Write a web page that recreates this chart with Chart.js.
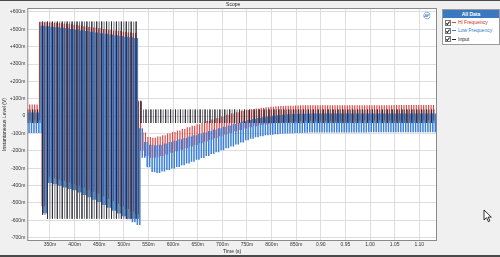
<!DOCTYPE html>
<html>
<head>
<meta charset="utf-8">
<script src="https://cdn.jsdelivr.net/npm/chart.js@4.4.1/dist/chart.umd.min.js"></script>
<style>
  body { margin: 0; width: 500px; height: 257px; overflow: hidden; background: #f0f0f0; position: relative; }
  #chart { position: absolute; left: 0; top: 0; }
  .bar { position: absolute; left: 0; width: 500px; background: #4a4a4a; }
  #legend { position: absolute; left: 442px; top: 9px; width: 56px; height: 34px; border: 1px solid #9c9c9c;
            background: #fff; font-family: "Liberation Sans", Arial, sans-serif; font-size: 5px; }
  #legend .hdr { background: #3a78bf; color: #fff; font-weight: bold; text-align: center; height: 8px; line-height: 8px; }
  #legend .row { height: 8.4px; line-height: 8.4px; white-space: nowrap; position: relative; }
  #legend .cb { position: absolute; left: 2px; top: 1.7px; width: 4px; height: 4px; border: 0.6px solid #777; background: #fff; }
  #legend .cb::after { content: ""; position: absolute; left: 1.2px; top: -0.2px; width: 1.2px; height: 2.6px;
                       border: solid #222; border-width: 0 0.8px 0.8px 0; transform: rotate(40deg); }
  #legend .dash { position: absolute; left: 9px; top: 4px; width: 4px; height: 0.8px; }
  #legend .txt { position: absolute; left: 15px; top: 0; }
</style>
</head>
<body>
<canvas id="chart" width="440" height="257"></canvas>
<div class="bar" style="top:0;height:1px"></div>
<div class="bar" style="top:255px;height:2px"></div>
<div id="legend">
  <div class="hdr">All Data</div>
  <div class="row"><span class="cb"></span><span class="dash" style="background:#d9443f"></span><span class="txt" style="color:#c8302c">Hi Frequency</span></div>
  <div class="row"><span class="cb"></span><span class="dash" style="background:#3579d0"></span><span class="txt" style="color:#3579d0">Low Frequency</span></div>
  <div class="row"><span class="cb"></span><span class="dash" style="background:#222"></span><span class="txt" style="color:#222">Input</span></div>
</div>
<svg style="position:absolute;left:483px;top:209px" width="10" height="14" viewBox="0 0 10 14">
  <path d="M1 1 L1 11 L3.5 8.6 L5.4 12.6 L6.9 11.9 L5.1 8.1 L8.3 8.1 Z" fill="#fff" stroke="#000" stroke-width="0.8"/>
</svg>
<script>
// time base: alternating peaks/troughs, one every 5 ms starting at 305 ms
const t0 = 0.305;
const dt = 0.005;

// Input (V, in milli units) - peaks then troughs
const inputPeaks = [38, 38, 38,
  545, 545, 545, 545, 545, 545, 545, 545, 545, 545, 545, 545, 545, 545, 545, 545, 545, 545, 545, 545,
  85,
  38, 38, 38, 38, 38, 38, 38, 38, 38, 38, 38, 38, 38, 38, 38, 38, 38, 38, 38, 38,
  38, 38, 38, 38, 38, 38, 38, 38, 38, 38, 38, 38, 38, 38, 38, 38, 38, 38, 38, 38,
  38, 38, 38, 38, 38, 38, 38, 38, 38, 38, 38, 38, 38, 38, 38, 38, 38, 38, 38, 38];
const inputTroughs = [-40, -40, -40,
  -570, -592, -592, -592, -592, -592, -592, -592, -592, -592, -592, -592, -592, -592, -592, -592, -592, -592, -592, -592,
  -40, -40, -40, -40, -40, -40, -40, -40, -40, -40, -40, -40, -40, -40, -40, -40, -40, -40, -40, -40,
  -40, -40, -40, -40, -40, -40, -40, -40, -40, -40, -40, -40, -40, -40, -40, -40, -40, -40, -40, -40,
  -40, -40, -40, -40, -40, -40, -40, -40, -40, -40, -40, -40, -40, -40, -40, -40, -40, -40, -40, -40];

// Low Frequency
const lowPeaks = [20, 20, 20,
  520, 518, 515, 512, 509, 506, 502, 498, 494, 490, 486, 482, 478, 474, 470, 466, 462, 458, 454, 450,
  -70, -150, -165, -168, -165, -158, -150, -142, -134, -126, -118, -110, -102, -94, -86, -78, -70,
  -62, -54, -46, -38, -30, -23, -17, -11, -6, -2, 2, 5, 8, 10, 12, 13, 14,
  15, 15, 15, 15, 15, 15, 15, 15, 15, 15, 15, 15, 15, 15, 15, 15, 15, 15, 15, 15, 15, 15, 15, 15, 15, 15, 15];
const lowTroughs = [-97, -97, -97,
  -560, -385, -393, -402, -411, -420, -428, -440, -455, -468, -482, -495, -512, -528, -545, -562, -578, -595, -612, -628,
  -240, -295, -322, -328, -320, -311, -302, -293, -283, -273, -263, -252, -241, -230, -219, -208, -197,
  -186, -175, -164, -152, -140, -130, -122, -116, -111, -107, -104, -102, -100, -99, -98, -97, -96, -95, -95, -94,
  -94, -94, -94, -94, -94, -94, -94, -94, -94, -93, -93, -93, -93, -93, -93, -93, -93, -93, -93, -93, -93, -93, -93];

// Hi Frequency
const hiPeaks = [67, 67, 67,
  542, 541, 539, 537, 535, 532, 529, 526, 522, 518, 514, 510, 506, 502, 498, 494, 490, 486, 482, 479,
  90, -95, -120, -125, -118, -110, -101, -92, -83, -74, -65, -56, -47, -38, -29, -20, -11,
  -2, 7, 15, 22, 29, 35, 40, 44, 48, 51, 54, 56, 58, 59, 60, 61, 62,
  62, 62, 62, 62, 62, 62, 62, 62, 63, 63, 63, 63, 63, 63, 63, 63, 63, 63, 64, 64, 64, 64, 64, 64, 64, 64, 64];
const hiTroughs = [-25, -25, -25,
  -520, -350, -358, -366, -374, -382, -390, -400, -412, -424, -436, -448, -462, -476, -490, -505, -520, -535, -550, -565,
  -200, -230, -240, -238, -230, -221, -212, -203, -194, -185, -176, -166, -156, -146, -136, -126, -116,
  -106, -97, -88, -80, -72, -65, -59, -53, -48, -44, -40, -37, -34, -32, -30, -29, -28,
  -27, -27, -27, -27, -27, -27, -27, -27, -27, -27, -26, -26, -26, -26, -26, -26, -26, -26, -26, -26, -26, -26, -26, -26, -26, -26];

// phase of each trace relative to the input (s)
const phase = { input: 0, low: 0.0025, hi: -0.0011 };

const xTickValues = [0.35, 0.40, 0.45, 0.50, 0.55, 0.60, 0.65, 0.70, 0.75, 0.80, 0.85, 0.90, 0.95, 1.00, 1.05, 1.10];
const xTickLabels = ['350m', '400m', '450m', '500m', '550m', '600m', '650m', '700m', '750m', '800m', '850m',
  '0.90', '0.95', '1.00', '1.05', '1.10'];
const yTickValues = [-700, -600, -500, -400, -300, -200, -100, 0, 100, 200, 300, 400, 500, 600];
const yTickLabels = ['-700m', '-600m', '-500m', '-400m', '-300m', '-200m', '-100m', '0',
  '+100m', '+200m', '+300m', '+400m', '+500m', '+600m'];

// scope style: each swing between successive extremes drawn as a vertical stroke
function strokes(peaks, troughs, lag) {
  const ext = [];
  for (let k = 0; k < peaks.length; k++) {
    ext.push(peaks[k]);
    if (k < troughs.length) ext.push(troughs[k]);
  }
  const pts = [];
  for (let j = 0; j < ext.length - 1; j++) {
    const x = t0 + j * dt + lag;
    pts.push({ x: x, y: ext[j] }, { x: x, y: ext[j + 1] }, { x: x, y: null });
  }
  return pts;
}

const FONT = '"Liberation Sans", Arial, sans-serif';

const plotFrame = {
  id: 'plotFrame',
  beforeDraw(chart) {
    const { ctx, chartArea: a } = chart;
    ctx.save();
    ctx.fillStyle = '#fff';
    ctx.fillRect(a.left, a.top, a.right - a.left, a.bottom - a.top);
    ctx.restore();
  },
  afterDraw(chart) {
    const { ctx, chartArea: a } = chart;
    const ys = chart.scales.y;
    ctx.save();
    ctx.strokeStyle = '#8a8a8a';
    ctx.lineWidth = 1;
    ctx.strokeRect(a.left + 0.5, a.top + 0.5, a.right - a.left - 1, a.bottom - a.top - 1);
    ctx.font = '5px ' + FONT;
    // y tick labels
    ctx.fillStyle = '#333';
    ctx.textAlign = 'right';
    ctx.textBaseline = 'middle';
    yTickValues.forEach((v, i) => ctx.fillText(yTickLabels[i], a.left - 2, ys.getPixelForValue(v)));
    // title
    ctx.fillStyle = '#222';
    ctx.textAlign = 'center';
    ctx.fillText('Scope', (a.left + a.right) / 2 + 1, 4.5);
    // AP logo
    ctx.strokeStyle = '#3a78bf';
    ctx.lineWidth = 0.6;
    ctx.beginPath();
    ctx.arc(427, 15.5, 3.2, 0.3, Math.PI * 1.9);
    ctx.stroke();
    ctx.fillStyle = '#3a78bf';
    ctx.font = 'italic bold 4px ' + FONT;
    ctx.fillText('AP', 427, 15.8);
    ctx.restore();
  }
};

const ctx = document.getElementById('chart').getContext('2d');
const chart = new Chart(ctx, {
  type: 'line',
  data: {
    datasets: [
      { label: 'Input', data: strokes(inputPeaks, inputTroughs, phase.input), borderColor: '#23232e', borderWidth: 0.65 },
      { label: 'Low Frequency', data: strokes(lowPeaks, lowTroughs, phase.low), borderColor: '#3a7fd8', borderWidth: 1.5 },
      { label: 'Hi Frequency', data: strokes(hiPeaks, hiTroughs, phase.hi), borderColor: '#dc4a4a', borderWidth: 1.2 }
    ]
  },
  options: {
    responsive: false,
    animation: false,
    devicePixelRatio: 1,
    spanGaps: false,
    layout: { padding: { left: 0, right: 3, top: 8, bottom: 2 } },
    elements: { point: { radius: 0 }, line: { tension: 0 } },
    plugins: { legend: { display: false }, tooltip: { enabled: false } },
    scales: {
      x: {
        type: 'linear',
        min: 0.304,
        max: 1.136,
        afterBuildTicks: s => { s.ticks = xTickValues.map(v => ({ value: v })); },
        afterFit: s => { s.height = 14; },
        grid: { color: '#dedede', drawTicks: false },
        border: { display: false },
        ticks: {
          callback: (v, i) => xTickLabels[i],
          font: { size: 5, family: FONT }, color: '#333', padding: 1, maxRotation: 0, autoSkip: false
        },
        title: { display: true, text: 'Time (s)', font: { size: 5, family: FONT }, color: '#222', padding: 0 }
      },
      y: {
        min: -720,
        max: 623,
        afterBuildTicks: s => { s.ticks = yTickValues.map(v => ({ value: v })); },
        afterFit: s => { s.width = 27.3; },
        grid: { color: '#dedede', drawTicks: false },
        border: { display: false },
        ticks: { display: false },
        title: { display: true, text: 'Instantaneous Level (V)', font: { size: 5, family: FONT }, color: '#222', padding: { top: 1.5, bottom: 0 } }
      }
    }
  },
  plugins: [plotFrame]
});
</script>
</body>
</html>
